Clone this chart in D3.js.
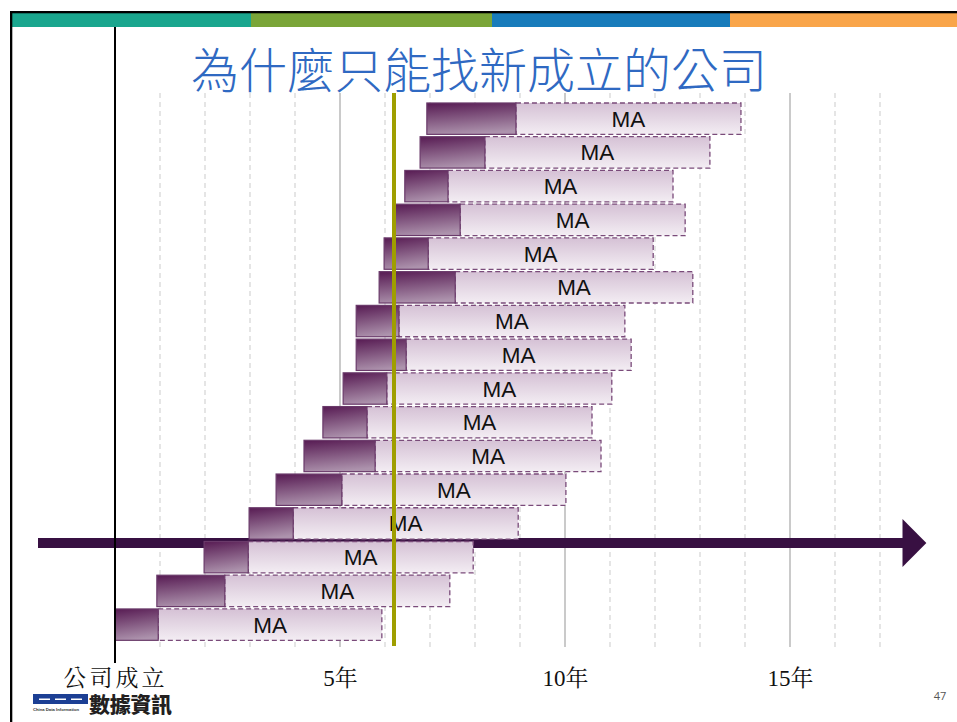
<!DOCTYPE html>
<html>
<head>
<meta charset="utf-8">
<script src="https://cdn.jsdelivr.net/npm/d3@7"></script>
<style>
  body { margin: 0; background: #fff; }
  svg { display: block; }
</style>
</head>
<body>
<div id="chart-area"></div>
<script>

// rows top to bottom, values in years since founding
const rows = d3.range(16)
const startYear = [6.93, 6.78, 6.44, 6.22, 5.98, 5.87, 5.36, 5.36, 5.07, 4.62, 4.20, 3.58, 2.98, 1.98, 0.93, 0]
const maStartYear = [8.91, 8.22, 7.40, 7.67, 6.96, 7.56, 6.31, 6.47, 6.04, 5.60, 5.78, 5.04, 3.96, 2.96, 2.44, 0.96]
const maEndYear = [13.91, 13.22, 12.40, 12.67, 11.96, 12.84, 11.33, 11.47, 11.04, 10.60, 10.80, 10.02, 8.96, 7.96, 7.44, 5.93]
const barLabel = 'MA'

const gridYears = [1, 2, 3, 4, 5, 6, 7, 8, 9, 10, 11, 12, 13, 14, 15, 16, 17]
const majorYears = [5, 10, 15]
const tickYears = [0, 5, 10, 15]
const tickLabels = ['公司成立', '5年', '10年', '15年']
const nowYear = 6.2

const title = '為什麼只能找新成立的公司'
const pageNo = '47'

const W = 957
const H = 722

const svg = d3.select('#chart-area').append('svg')
    .attr('width', W)
    .attr('height', H)

const x = d3.scaleLinear()
    .domain([0, 18])
    .range([115, 925])

const y = d3.scaleBand()
    .domain(rows)
    .range([101.8, 641.5])
    .paddingInner(0.07)
    .paddingOuter(0.035)

// gradients
const defs = svg.append('defs')
const gDark = defs.append('linearGradient').attr('id', 'dark')
    .attr('x1', '0.2').attr('y1', '0').attr('x2', '0.4').attr('y2', '1')
gDark.append('stop').attr('offset', '0').attr('stop-color', '#5a1f56')
gDark.append('stop').attr('offset', '1').attr('stop-color', '#ad93ad')
const gLight = defs.append('linearGradient').attr('id', 'light')
    .attr('x1', '0').attr('y1', '0').attr('x2', '0').attr('y2', '1')
gLight.append('stop').attr('offset', '0').attr('stop-color', '#d5c1d5')
gLight.append('stop').attr('offset', '1').attr('stop-color', '#f3edf3')

// frame + colour stripe
const stripe = [
    { x0: 12, x1: 251, c: '#1aa68e' },
    { x0: 251, x1: 492, c: '#7aa538' },
    { x0: 492, x1: 730, c: '#187cbb' },
    { x0: 730, x1: 957, c: '#f9a54a' }
]
svg.selectAll('.stripe').data(stripe).enter().append('rect')
    .attr('x', d => d.x0).attr('y', 13)
    .attr('width', d => d.x1 - d.x0).attr('height', 14)
    .attr('fill', d => d.c)
svg.append('rect').attr('x', 10).attr('y', 11).attr('width', W - 10).attr('height', 2.3).attr('fill', '#000')
svg.append('rect').attr('x', 10).attr('y', 11).attr('width', 2.3).attr('height', H - 11).attr('fill', '#000')

// title
svg.append('text')
    .attr('x', 479).attr('y', 88)
    .attr('text-anchor', 'middle')
    .attr('font-family', '"Noto Sans CJK TC", "Noto Sans CJK SC", sans-serif')
    .attr('font-weight', 300)
    .attr('font-size', 48)
    .attr('fill', '#2f69c2')
    .text(title)

// grid
const g = svg.append('g')
g.selectAll('.grid').data(gridYears).enter().append('line')
    .attr('x1', d => x(d)).attr('x2', d => x(d))
    .attr('y1', 93).attr('y2', 647)
    .attr('stroke', d => majorYears.includes(d) ? '#bdbdbd' : '#d4d4d4')
    .attr('stroke-width', d => majorYears.includes(d) ? 1.6 : 1.2)
    .attr('stroke-dasharray', d => majorYears.includes(d) ? null : '5,4')

// timeline arrow
g.append('rect')
    .attr('x', 38).attr('y', 538)
    .attr('width', x(17.6) - 38).attr('height', 10)
    .attr('fill', '#381042')
g.append('path')
    .attr('d', `M${x(17.5)},519 L${x(18.03)},543 L${x(17.5)},567 Z`)
    .attr('fill', '#381042')

// bars
const bars = g.selectAll('.row').data(rows).enter().append('g')

bars.append('rect')
    .attr('x', i => x(maStartYear[i]))
    .attr('y', i => y(i))
    .attr('width', i => x(maEndYear[i]) - x(maStartYear[i]))
    .attr('height', y.bandwidth())
    .attr('fill', 'url(#light)')
    .attr('stroke', '#7a4b7a')
    .attr('stroke-width', 1.3)
    .attr('stroke-dasharray', '5,3')

bars.append('rect')
    .attr('x', i => x(startYear[i]))
    .attr('y', i => y(i))
    .attr('width', i => x(maStartYear[i]) - x(startYear[i]))
    .attr('height', y.bandwidth())
    .attr('fill', 'url(#dark)')
    .attr('stroke', '#6a3a6a')
    .attr('stroke-width', 1.2)

bars.append('text')
    .attr('x', i => (x(maStartYear[i]) + x(maEndYear[i])) / 2)
    .attr('y', i => y(i) + y.bandwidth() / 2 + 8)
    .attr('text-anchor', 'middle')
    .attr('font-family', '"Liberation Sans", Arial, sans-serif')
    .attr('font-size', 22.5)
    .attr('fill', '#111')
    .text(barLabel)

// "now" line
g.append('rect')
    .attr('x', x(nowYear) - 2).attr('y', 93)
    .attr('width', 4).attr('height', 553)
    .attr('fill', '#9f9e00')

// founding axis line
g.append('line')
    .attr('x1', x(0)).attr('x2', x(0))
    .attr('y1', 27).attr('y2', 663)
    .attr('stroke', '#000').attr('stroke-width', 2)

// bottom axis labels
const xAxisCall = d3.axisBottom(x)
    .tickValues(tickYears)
    .tickFormat((d, i) => tickLabels[i])
    .tickSize(0)

const axis = svg.append('g')
    .attr('transform', 'translate(0, 664)')
    .call(xAxisCall)
axis.select('.domain').remove()
axis.selectAll('text')
    .attr('y', 22)
    .attr('dy', 0)
    .attr('font-family', '"Liberation Serif", "Noto Serif CJK TC", "Noto Sans CJK TC", serif')
    .attr('font-size', 23)
    .attr('fill', '#111')
    .attr('letter-spacing', (d, i) => i === 0 ? 3 : 0)

// page number
svg.append('text')
    .attr('x', 940).attr('y', 700)
    .attr('text-anchor', 'middle')
    .attr('font-family', '"Open Sans", sans-serif')
    .attr('font-size', 11)
    .attr('fill', '#555')
    .text(pageNo)

// logo
const logo = svg.append('g')
logo.append('rect').attr('x', 33).attr('y', 694).attr('width', 55).attr('height', 10).attr('fill', '#1c3f94')
logo.selectAll('.dash').data([39, 55, 71]).enter().append('rect')
    .attr('x', d => d).attr('y', 698.5).attr('width', 11).attr('height', 1.5).attr('fill', '#fff')
logo.append('text')
    .attr('x', 33).attr('y', 711)
    .attr('font-family', '"Liberation Sans", sans-serif')
    .attr('font-size', 4.2).attr('font-weight', 'bold')
    .attr('fill', '#333')
    .text('China Data Information')
logo.append('text')
    .attr('x', 89).attr('y', 712)
    .attr('font-family', '"Noto Sans CJK TC", sans-serif')
    .attr('font-size', 21).attr('font-weight', 900)
    .attr('fill', '#231f1f')
    .attr('letter-spacing', -0.3)
    .text('數據資訊')

</script>
</body>
</html>
